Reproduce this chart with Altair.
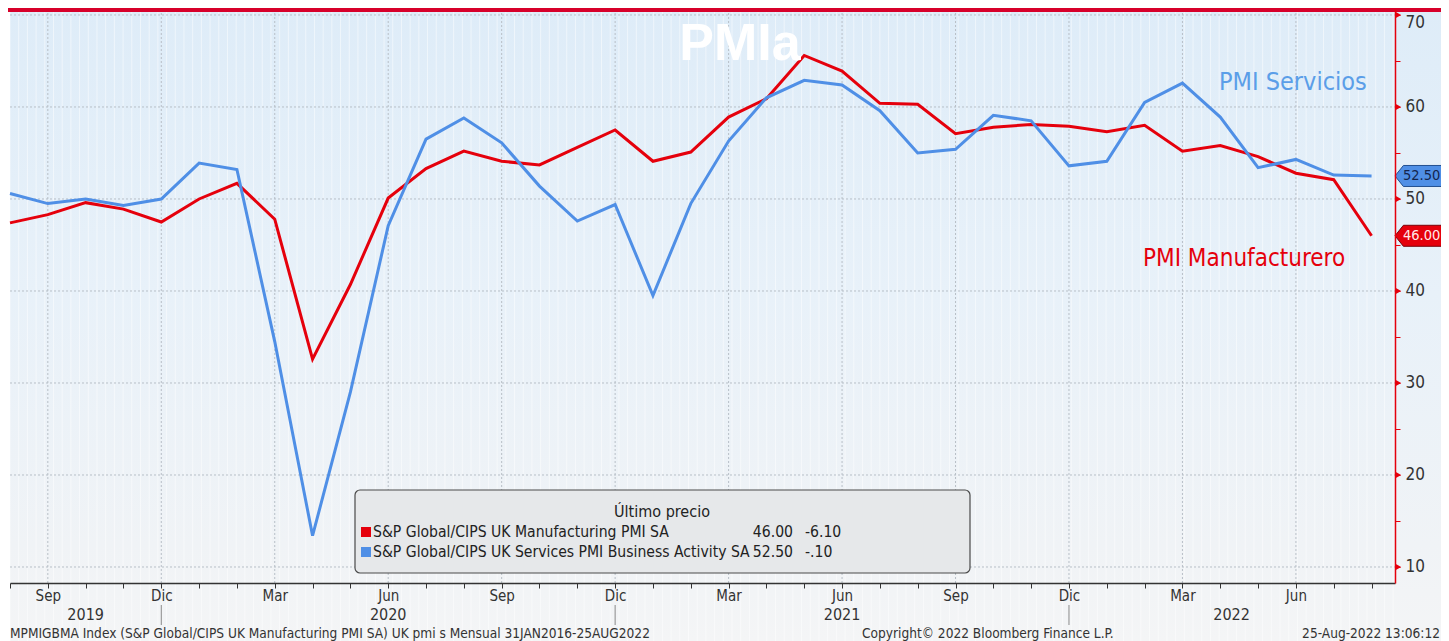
import json
import altair as alt
import pandas as pd

# ---------------- data ----------------
months = ["2019-08", "2019-09", "2019-10", "2019-11", "2019-12",
          "2020-01", "2020-02", "2020-03", "2020-04", "2020-05", "2020-06",
          "2020-07", "2020-08", "2020-09", "2020-10", "2020-11", "2020-12",
          "2021-01", "2021-02", "2021-03", "2021-04", "2021-05", "2021-06",
          "2021-07", "2021-08", "2021-09", "2021-10", "2021-11", "2021-12",
          "2022-01", "2022-02", "2022-03", "2022-04", "2022-05", "2022-06",
          "2022-07", "2022-08"]
manufacturing = [47.4, 48.3, 49.6, 48.9, 47.5, 50.0, 51.7, 47.8, 32.6, 40.7, 50.1,
                 53.3, 55.2, 54.1, 53.7, 55.6, 57.5, 54.1, 55.1, 58.9, 60.9, 65.6,
                 63.9, 60.4, 60.3, 57.1, 57.8, 58.1, 57.9, 57.3, 58.0, 55.2, 55.8,
                 54.6, 52.8, 52.1, 46.0]
services = [50.6, 49.5, 50.0, 49.3, 50.0, 53.9, 53.2, 34.5, 13.4, 29.0, 47.1,
            56.5, 58.8, 56.1, 51.4, 47.6, 49.4, 39.5, 49.5, 56.3, 61.0, 62.9,
            62.4, 59.6, 55.0, 55.4, 59.1, 58.5, 53.6, 54.1, 60.5, 62.6, 58.9,
            53.4, 54.3, 52.6, 52.5]
month_abbr = ["Ago", "Sep", "Oct", "Nov", "Dic", "Ene", "Feb", "Mar", "Abr", "May", "Jun", "Jul"]
y_major = [10, 20, 30, 40, 50, 60, 70]
y_minor = [15, 25, 35, 45, 55, 65]
year_labels = ["2019", "2020", "2021", "2022"]
year_pos = [2, 10, 22, 32.3]
year_sep = [4, 16, 28]
legend_names = ["S&P Global/CIPS UK Manufacturing PMI SA",
                "S&P Global/CIPS UK Services PMI Business Activity SA"]
last_values = ["46.00", "52.50"]
changes = ["-6.10", "-.10"]
tag_values = [46.0, 52.5]
footer_texts = ["MPMIGBMA Index (S&P Global/CIPS UK Manufacturing PMI SA) UK pmi s  Mensual 31JAN2016-25AUG2022",
                "Copyright\u00a9 2022 Bloomberg Finance L.P.",
                "25-Aug-2022 13:06:12"]

# ---------------- style ----------------
RED = "#e5000c"
BLUE = "#4f8fe6"
TXT = "#333333"
FONT = "DejaVu Sans Condensed, Liberation Sans Narrow, DejaVu Sans"
W, H = 1385, 574
XMAX = 36.62
YDOM = [8.26, 70.65]

df = pd.DataFrame({"idx": list(range(len(months))), "month": months,
                   "Manufacturing": manufacturing, "Services": services})
long = df.melt(id_vars=["idx", "month"], value_vars=["Manufacturing", "Services"],
               var_name="series", value_name="value")

xs = alt.Scale(domain=[0, XMAX], nice=False, zero=False)
ys = alt.Scale(domain=YDOM, nice=False, zero=False)

labels_all = [month_abbr[i % 12] for i in range(len(months))]
x_label_expr = "datum.value % 3 == 1 ? " + json.dumps(labels_all) + "[datum.value] : ''"

# one shared axis definition per channel, used by every layer so they merge
x_axis = alt.Axis(values=list(range(len(months))), labelExpr=x_label_expr,
                  tickSize=5, tickColor=TXT, domainColor=TXT, domainWidth=1.5,
                  labelFontSize=15, labelColor=TXT, labelPadding=0,
                  labelFont=FONT, grid=False, labelOverlap=False,
                  labelFlush=False, zindex=2, title=None)
y_axis = alt.Axis(orient="right", values=sorted(y_major + y_minor),
                  labelExpr="datum.value % 10 == 0 ? datum.label : ''",
                  labelBaseline={"condition": {"test": "datum.value == 70", "value": "top"},
                                 "value": "middle"},
                  tickSize=5, tickColor=RED, domainColor=RED, domainWidth=1.5,
                  labelFontSize=17, labelColor=TXT, labelPadding=5,
                  labelFont=FONT, grid=False, labelOverlap=False, zindex=2, title=None)


def X(field):
    return alt.X(field, scale=xs, axis=x_axis, title=None)


def Y(field):
    return alt.Y(field, scale=ys, axis=y_axis, title=None)


one = pd.DataFrame({"a": [0]})

bg = alt.Chart(one).mark_rect(
    color=alt.LinearGradient(gradient="linear", x1=0, x2=0, y1=0, y2=1,
                             stops=[alt.GradientStop(color="#deecf8", offset=0),
                                    alt.GradientStop(color="#e8f1f9", offset=0.45),
                                    alt.GradientStop(color="#f0f3f6", offset=0.85),
                                    alt.GradientStop(color="#f4f5f6", offset=1)])
).encode(x=alt.value(0), x2=alt.value(1431), y=alt.value(0), y2=alt.value(632))

# faint weekly stripes of the background texture
stripe_pos = [k * 0.23 for k in range(160)]
stripes = alt.Chart(pd.DataFrame({"s": stripe_pos})).mark_rule(
    color="white", strokeWidth=1, opacity=0.5
).encode(x=X("s:Q"), y=alt.value(0), y2=alt.value(632))

hgrid = alt.Chart(pd.DataFrame({"v": y_major})).mark_rule(
    color="#b8bfc7", strokeDash=[2, 2], strokeWidth=1
).encode(y=Y("v:Q"), x=alt.value(0), x2=alt.value(W))

quarters = [i for i in range(len(months)) if i % 3 == 1]
vgrid = alt.Chart(pd.DataFrame({"q": quarters})).mark_rule(
    color="#b8bfc7", strokeDash=[2, 2], strokeWidth=1
).encode(x=X("q:Q"), y=alt.value(0), y2=alt.value(H))

lines = alt.Chart(long).mark_line(strokeWidth=3).encode(
    x=X("idx:Q"),
    y=Y("value:Q"),
    color=alt.Color("series:N", scale=alt.Scale(domain=["Manufacturing", "Services"],
                                                range=[RED, BLUE]), legend=None),
)

tri = alt.Chart(pd.DataFrame({"v": y_major})).mark_point(
    shape="triangle-right", filled=True, color=RED, size=38, opacity=1
).encode(y=Y("v:Q"), x=alt.value(W + 3.5))

ann_s = alt.Chart(pd.DataFrame({"t": ["PMI Servicios"]})).mark_text(
    align="left", baseline="middle", fontSize=25, color="#5b9ee8", font=FONT
).encode(text="t:N", x=alt.value(1209), y=alt.value(73))
ann_m = alt.Chart(pd.DataFrame({"t": ["PMI Manufacturero"]})).mark_text(
    align="left", baseline="middle", fontSize=24, color=RED, font=FONT
).encode(text="t:N", x=alt.value(1133), y=alt.value(250))

title = alt.Chart(pd.DataFrame({"t": ["PMIa"]})).mark_text(
    align="center", baseline="alphabetic", fontSize=52, fontWeight="bold",
    color="white", font="Liberation Sans, Arial, sans-serif"
).encode(text="t:N", x=alt.value(730), y=alt.value(51))

band = alt.Chart(one).mark_rect(color="#d7002a").encode(
    x=alt.value(-2), x2=alt.value(1431), y=alt.value(-1), y2=alt.value(3))

# legend box
box = alt.Chart(one).mark_rect(
    cornerRadius=5, fill="#e6e8ea", stroke="#4a4a4a", strokeWidth=1.2
).encode(x=alt.value(345), x2=alt.value(960), y=alt.value(481), y2=alt.value(564))
box_title = alt.Chart(pd.DataFrame({"t": ["\u00daltimo precio"]})).mark_text(
    align="center", baseline="middle", fontSize=16, color="#222", font=FONT
).encode(text="t:N", x=alt.value(652), y=alt.value(503))
legend_layers = []
for i, (nm, lv, ch, col) in enumerate(zip(legend_names, last_values, changes, [RED, BLUE])):
    ry = 523 + 20 * i
    legend_layers.append(alt.Chart(pd.DataFrame({"t": [nm]})).mark_square(
        size=100, color=col, opacity=1, filled=True
    ).encode(x=alt.value(356), y=alt.value(ry)))
    legend_layers.append(alt.Chart(pd.DataFrame({"t": [nm]})).mark_text(
        align="left", baseline="middle", fontSize=15.6, color="#222", font=FONT
    ).encode(text="t:N", x=alt.value(363), y=alt.value(ry)))
    legend_layers.append(alt.Chart(pd.DataFrame({"t": [lv]})).mark_text(
        align="right", baseline="middle", fontSize=15.6, color="#222", font=FONT
    ).encode(text="t:N", x=alt.value(783), y=alt.value(ry)))
    legend_layers.append(alt.Chart(pd.DataFrame({"t": [ch]})).mark_text(
        align="left", baseline="middle", fontSize=15.6, color="#222", font=FONT
    ).encode(text="t:N", x=alt.value(795), y=alt.value(ry)))

# value tags on right axis
tag_path = "M-1,0 L-0.84,-0.2 L1,-0.2 L1,0.2 L-0.84,0.2 Z"
tag_df = pd.DataFrame({"v": tag_values, "lab": last_values, "x": [XMAX, XMAX],
                       "series": ["Manufacturing", "Services"],
                       "tcol": ["#ffeaea", "#14254d"]})
tags = alt.Chart(tag_df).mark_point(
    shape=tag_path, filled=True, size=11025, xOffset=52.5, opacity=1, strokeWidth=1
).encode(
    x=X("x:Q"), y=Y("v:Q"),
    fill=alt.Fill("series:N", scale=alt.Scale(domain=["Manufacturing", "Services"],
                                              range=[RED, BLUE]), legend=None),
    stroke=alt.Stroke("series:N", scale=alt.Scale(domain=["Manufacturing", "Services"],
                                                  range=["#7a0008", "#23508f"]), legend=None),
)
tag_txt = alt.Chart(tag_df).mark_text(
    align="left", baseline="middle", fontSize=14.5, dx=8, font=FONT
).encode(
    x=X("x:Q"), y=Y("v:Q"), text="lab:N",
    color=alt.Color("tcol:N", scale=None),
)

years = alt.Chart(pd.DataFrame({"y": year_labels, "p": year_pos})).mark_text(
    align="center", baseline="middle", fontSize=16, color=TXT, font=FONT
).encode(text="y:N", x=X("p:Q"), y=alt.value(606))
seps = alt.Chart(pd.DataFrame({"s": year_sep})).mark_rule(color="#8a8a8a", strokeWidth=1).encode(
    x=X("s:Q"), y=alt.value(596), y2=alt.value(616))

foot_pos = [(0, "left"), (852, "left"), (1430, "right")]
footers = [alt.Chart(pd.DataFrame({"t": [t]})).mark_text(
    align=al, baseline="middle", fontSize=13.6, color=TXT, font=FONT
).encode(text="t:N", x=alt.value(fx), y=alt.value(625))
    for t, (fx, al) in zip(footer_texts, foot_pos)]

chart = alt.layer(
    bg, stripes, hgrid, vgrid, lines, tri, ann_s, ann_m, box, box_title, *legend_layers,
    tags, tag_txt, years, seps, *footers, title, band
).properties(
    width=W, height=H,
    autosize=alt.AutoSizeParams(type="none"),
    padding={"left": 2, "top": 1, "right": 46, "bottom": 58},
).configure_view(stroke=None).configure(font=FONT)

chart.save("out.html", embed_options={"renderer": "svg", "actions": False})
